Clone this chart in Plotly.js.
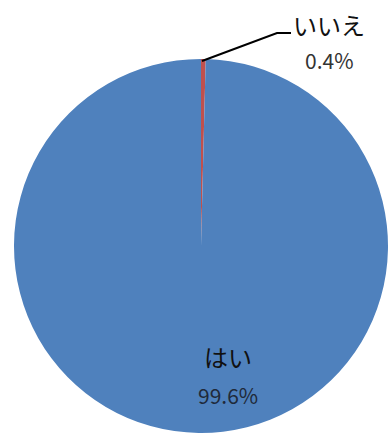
<!DOCTYPE html>
<html>
<head>
<meta charset="utf-8">
<script src="https://cdn.plot.ly/plotly-3.0.1.min.js"></script>
<style>
  html, body { margin: 0; padding: 0; background: #ffffff; }
  #chart { width: 392px; height: 436px; }
</style>
</head>
<body>
<div id="chart"></div>
<script>
// Survey answers and their shares (%)
const labels = ["いいえ", "はい"];
const values = [0.4, 99.6];
const colors = ["#C0504D", "#4F81BD"];

const W = 392, H = 436;
const px = x => x / W;
const py = y => 1 - y / H;

const font = "'Noto Sans CJK JP', 'Noto Sans', sans-serif";
const pct = v => v.toFixed(1) + "%";

const trace = {
  type: "pie",
  labels: labels,
  values: values,
  sort: false,
  direction: "clockwise",
  rotation: 0,
  textinfo: "none",
  hoverinfo: "label+percent",
  marker: { colors: colors, line: { width: 0 } },
  domain: { x: [px(14), px(388)], y: [py(433), py(59)] },
  showlegend: false
};

const layout = {
  width: W,
  height: H,
  margin: { l: 0, r: 0, t: 0, b: 0 },
  paper_bgcolor: "#ffffff",
  showlegend: false,
  shapes: [
    // leader line for the small slice
    {
      type: "path", xref: "paper", yref: "paper",
      path: `M ${px(202)} ${py(61)} L ${px(277)} ${py(33)} L ${px(291)} ${py(33)}`,
      line: { color: "#000000", width: 2 }
    }
  ],
  annotations: [
    { text: labels[0], x: px(329), y: py(24), xref: "paper", yref: "paper",
      showarrow: false, xanchor: "center", yanchor: "middle",
      font: { family: font, size: 24, color: "#111111" } },
    { text: pct(values[0]), x: px(329), y: py(60), xref: "paper", yref: "paper",
      showarrow: false, xanchor: "center", yanchor: "middle",
      font: { family: font, size: 21, color: "#333333" } },
    { text: labels[1], x: px(228), y: py(356), xref: "paper", yref: "paper",
      showarrow: false, xanchor: "center", yanchor: "middle",
      font: { family: font, size: 24, color: "#111111" } },
    { text: pct(values[1]), x: px(228), y: py(395), xref: "paper", yref: "paper",
      showarrow: false, xanchor: "center", yanchor: "middle",
      font: { family: font, size: 21, color: "#1f2a3a" } }
  ]
};

Plotly.newPlot("chart", [trace], layout, { displayModeBar: false, staticPlot: true });
</script>
</body>
</html>
